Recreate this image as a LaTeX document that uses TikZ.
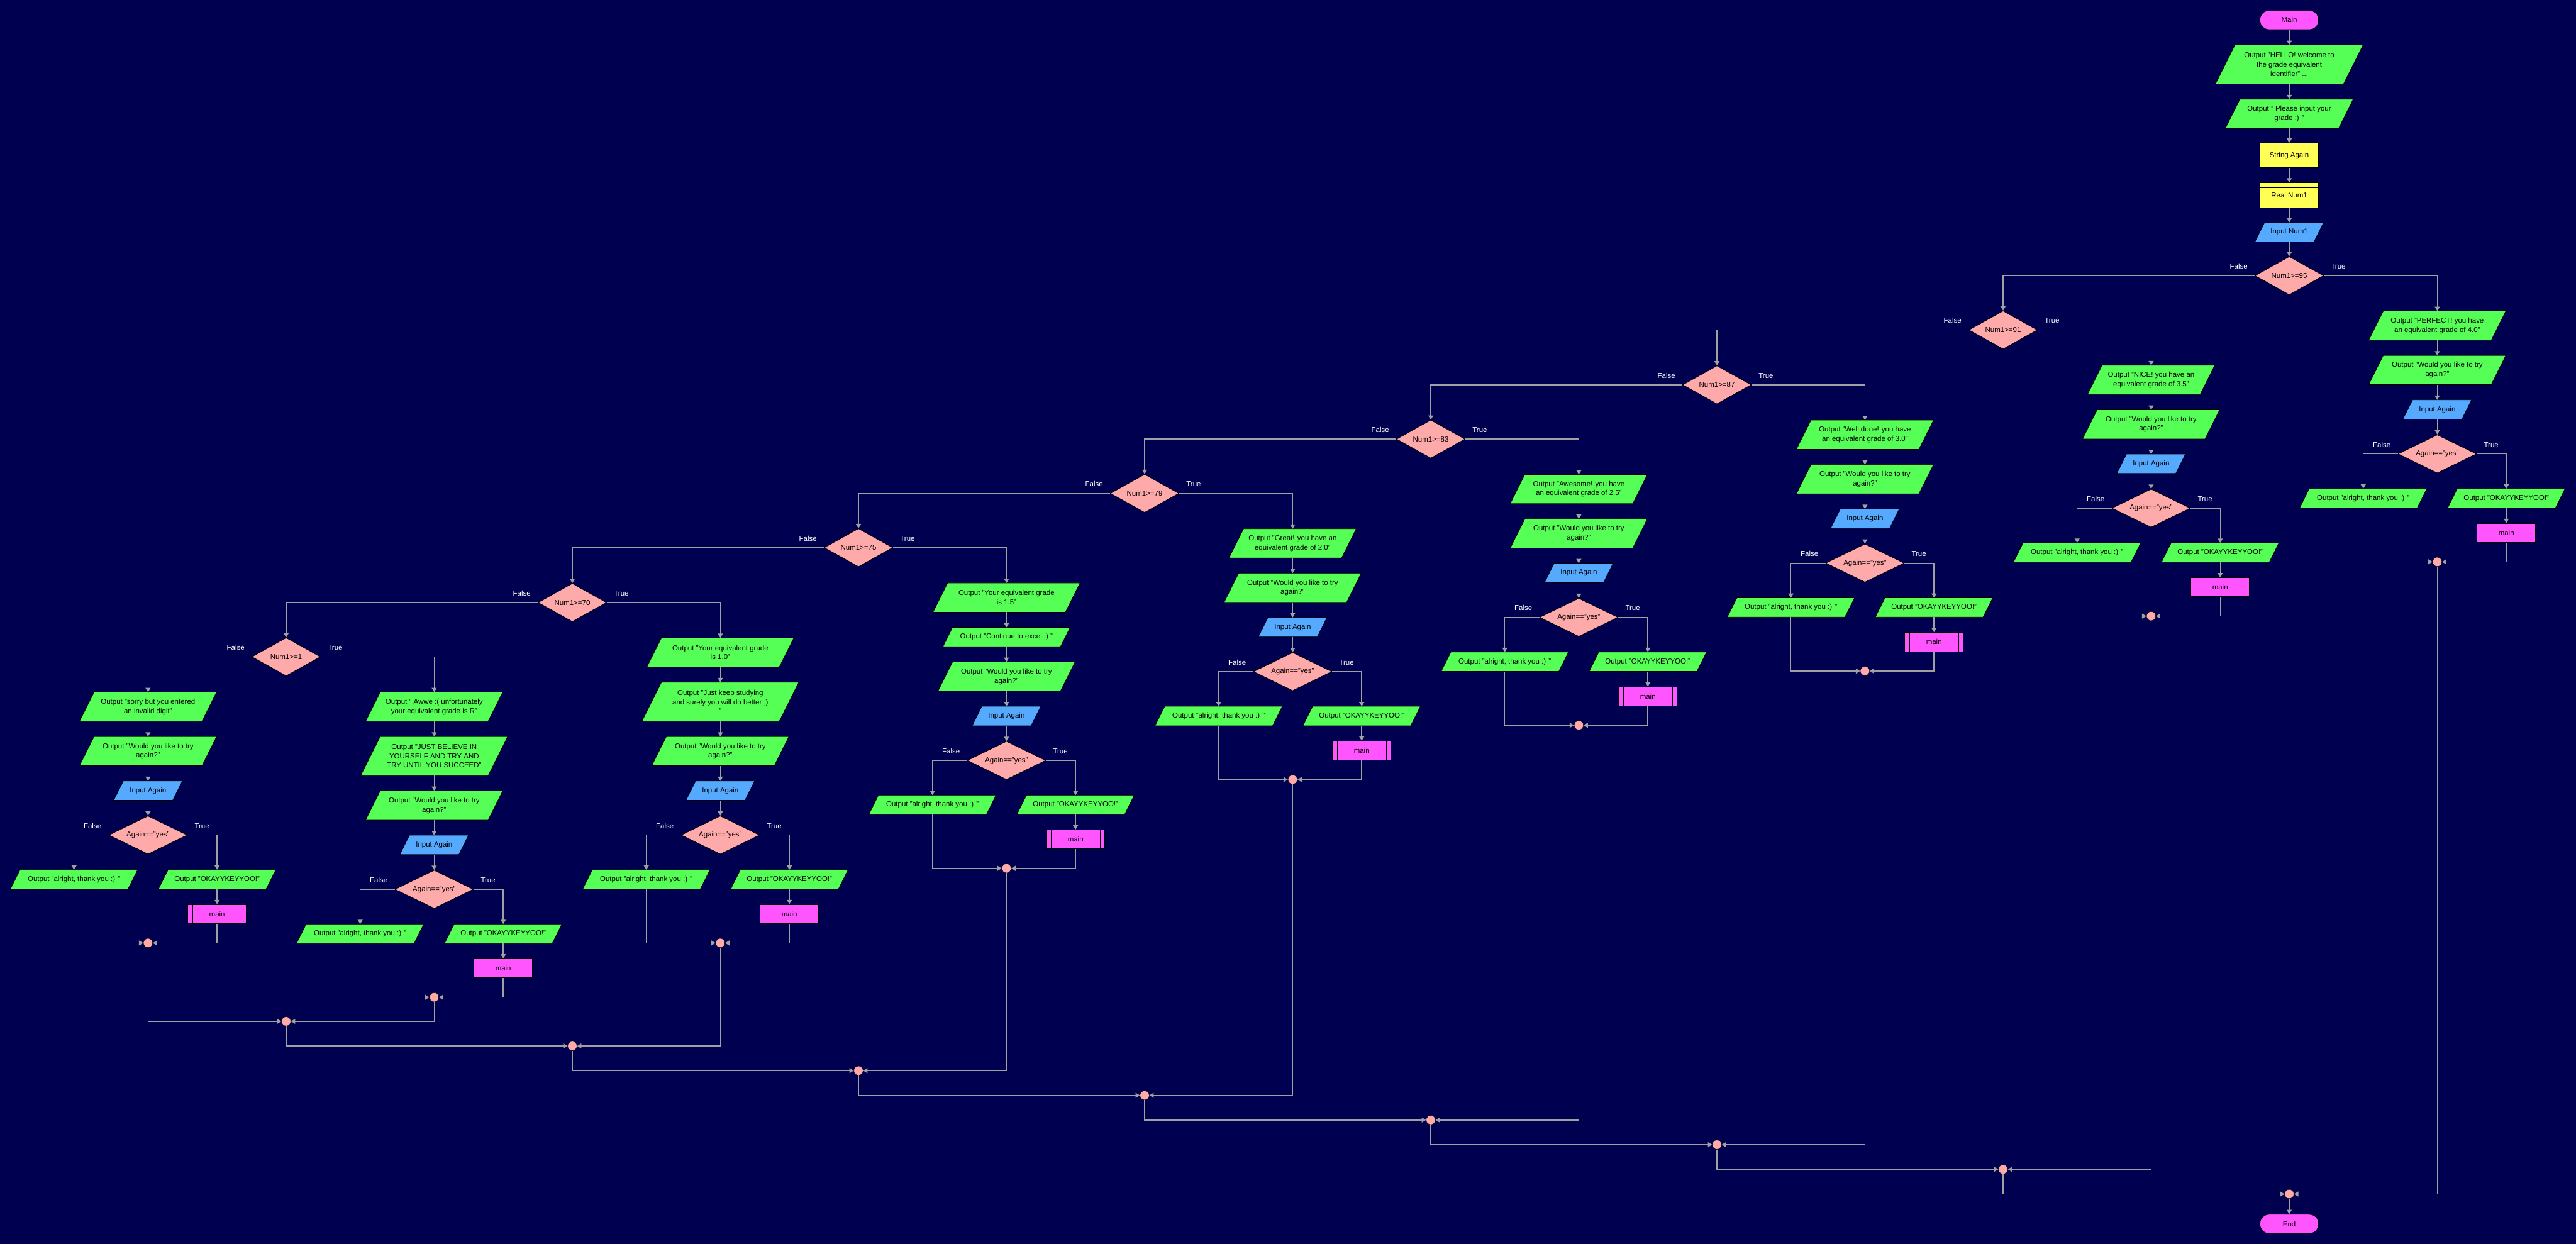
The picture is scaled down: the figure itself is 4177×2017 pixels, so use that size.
\documentclass[tikz,border=0pt]{standalone}
\usepackage{fontspec}
\setmainfont{Liberation Sans}
\usetikzlibrary{shapes.geometric,arrows.meta,calc}
\definecolor{cbg}{RGB}{0,0,80}
\definecolor{cgreen}{RGB}{85,255,85}
\definecolor{cblue}{RGB}{85,170,255}
\definecolor{cpink}{RGB}{255,170,170}
\definecolor{cyel}{RGB}{255,255,85}
\definecolor{cmag}{RGB}{255,85,255}
\definecolor{cline}{RGB}{160,160,160}
\pgfdeclarelayer{bgl}
\pgfdeclarelayer{shp}
\pgfsetlayers{bgl,shp,main}
\newcommand\flowfont{\fontsize{11.7}{15}\selectfont}
\tikzset{
  para/.style={shape=rectangle, inner sep=0pt, align=center, text=black,
    append after command={\pgfextra{\begin{pgfonlayer}{shp}
      \filldraw[fill=#1, draw=black, line width=0.8pt]
        (\tikzlastnode.south west)
        -- ($(\tikzlastnode.south east)!0.5!90:(\tikzlastnode.north east)$)
        -- (\tikzlastnode.north east)
        -- ($(\tikzlastnode.north west)!0.5!90:(\tikzlastnode.south west)$)
        -- cycle;
      \end{pgfonlayer}}}},
  outp/.style={para=cgreen},
  inp/.style={para=cblue, minimum width=111pt, minimum height=31pt},
  dec/.style={shape=diamond, shape aspect=2, inner sep=0pt, fill=cpink, draw=black, line width=0.8pt,
    minimum width=111pt, minimum height=62pt, text=black},
  term/.style={shape=rectangle, rounded corners=15pt, fill=cmag, draw=black, line width=0.8pt,
    minimum width=95pt, minimum height=31pt, inner sep=0pt, text=black},
  subr/.style={shape=rectangle, fill=cmag, draw=black, line width=0.8pt, minimum width=95pt,
    minimum height=31pt, inner sep=0pt, text=black,
    path picture={\draw[line width=0.8pt]
      ([xshift=8pt]path picture bounding box.south west) -- ([xshift=8pt]path picture bounding box.north west)
      ([xshift=-8pt]path picture bounding box.south east) -- ([xshift=-8pt]path picture bounding box.north east);}},
  decl/.style={shape=rectangle, fill=cyel, draw=black, line width=0.8pt, minimum width=95pt,
    minimum height=40pt, inner sep=0pt, text=black,
    path picture={\draw[line width=0.8pt]
      ([yshift=-8pt]path picture bounding box.north west) -- ([yshift=-8pt]path picture bounding box.north east)
      ([xshift=8pt]path picture bounding box.north west) -- ([xshift=8pt]path picture bounding box.south west);}},
  mrg/.style={shape=circle, fill=cpink, draw=black, line width=0.5pt, minimum size=15pt, inner sep=0pt},
  arr/.style={draw=cline, line width=1.5pt, -{Triangle[length=7pt,width=8pt]}},
  tl/.style={anchor=south west, xshift=11pt, yshift=10pt, inner sep=0pt, text=white},
  fl/.style={anchor=south east, xshift=-11pt, yshift=10pt, inner sep=0pt, text=white},
}
\newcommand\branchtail[3]{%
  \node[outp, minimum width=222pt, minimum height=47pt] (#1w) at (#2,#3) {Output "Would you like to try\\again?"};
  \node[inp] (#1i) at (#2,#3+64) {Input Again};
  \node[dec, minimum width=127pt] (#1d) at (#2,#3+136) {Again=="yes"};
  \node[outp, minimum width=206pt, minimum height=31pt] (#1f) at (#2-120,#3+208) {Output "alright, thank you :) "};
  \node[outp, minimum width=190pt, minimum height=31pt] (#1t) at (#2+112,#3+208) {Output "OKAYYKEYYOO!"};
  \node[subr] (#1m) at (#2+112,#3+264) {main};
  \node[mrg] (#1j) at (#2,#3+311) {};
  \draw[arr] (#1w) -- (#1i);
  \draw[arr] (#1i) -- (#1d);
  \draw[arr] (#1d.west) node[fl] (#1fl) {False} -| (#1f);
  \draw[arr] (#1d.east) node[tl] (#1tl) {True} -| (#1t);
  \draw[arr] (#1t) -- (#1m);
  \draw[arr] (#1f) |- (#1j);
  \draw[arr] (#1m) |- (#1j);
}
\begin{document}
\begin{tikzpicture}[x=1pt,y=-1pt,font=\flowfont]
\useasboundingbox (0,0) rectangle (4177,2017);
\begin{pgfonlayer}{bgl}\fill[cbg] (0,0) rectangle (4177,2017);\end{pgfonlayer}

% main column
\node[term] (start) at (3712,32.5) {Main};
\node[outp, minimum width=239pt, minimum height=63pt] (hello) at (3712,104.5) {Output "HELLO! welcome to\\the grade equivalent\\identifier" ...};
\node[outp, minimum width=207pt, minimum height=47pt] (please) at (3712,184.5) {Output " Please input your\\grade :) "};
\node[decl] (strv) at (3712,252) {String Again};
\node[decl] (realv) at (3712,316.5) {Real Num1};
\node[inp] (innum) at (3712,376.5) {Input Num1};
\draw[arr] (start) -- (hello);
\draw[arr] (hello) -- (please);
\draw[arr] (please) -- (strv);
\draw[arr] (strv) -- (realv);
\draw[arr] (realv) -- (innum);

% decisions
\node[dec] (d0) at (3712,447) {Num1>=95};
\node[dec] (d1) at (3248,535) {Num1>=91};
\node[dec] (d2) at (2784,624) {Num1>=87};
\node[dec] (d3) at (2320,712) {Num1>=83};
\node[dec] (d4) at (1856,800) {Num1>=79};
\node[dec] (d5) at (1392,888) {Num1>=75};
\node[dec] (d6) at (928,977) {Num1>=70};
\node[dec] (d7) at (464,1065) {Num1>=1};
\draw[arr] (innum) -- (d0);

% first boxes of each branch
\node[outp, minimum width=222pt, minimum height=47pt] (b0) at (3952,528) {Output "PERFECT! you have\\an equivalent grade of 4.0"};
\node[outp, minimum width=206pt, minimum height=47pt] (b1) at (3488,616) {Output "NICE! you have an\\equivalent grade of 3.5"};
\node[outp, minimum width=222pt, minimum height=47pt] (b2) at (3024,705) {Output "Well done! you have\\an equivalent grade of 3.0"};
\node[outp, minimum width=222pt, minimum height=47pt] (b3) at (2560,793) {Output "Awesome! you have\\an equivalent grade of 2.5"};
\node[outp, minimum width=206pt, minimum height=47pt] (b4) at (2096,881) {Output "Great! you have an\\equivalent grade of 2.0"};
\node[outp, minimum width=238pt, minimum height=47pt] (b5) at (1632,969) {Output "Your equivalent grade\\is 1.5"};
\node[outp, minimum width=206pt, minimum height=31pt] (b5c) at (1632,1033) {Output "Continue to excel ;) "};
\node[outp, minimum width=238pt, minimum height=47pt] (b6) at (1168,1058) {Output "Your equivalent grade\\is 1.0"};
\node[outp, minimum width=254pt, minimum height=63pt] (b6c) at (1168,1138) {Output "Just keep studying\\and surely you will do better ;)\\"};
\node[outp, minimum width=222pt, minimum height=47pt] (b7) at (704,1146) {Output " Awwe :( unfortunately\\your equivalent grade is R"};
\node[outp, minimum width=238pt, minimum height=63pt] (b7c) at (704,1226) {Output "JUST BELIEVE IN\\YOURSELF AND TRY AND\\TRY UNTIL YOU SUCCEED"};
\node[outp, minimum width=222pt, minimum height=47pt] (s7) at (240,1146) {Output "sorry but you entered\\an invalid digit"};

% decision connectors
\draw[arr] (d0.east) node[tl] (tt0) {True} -| (b0);
\draw[arr] (d0.west) node[fl] (ff0) {False} -| (d1);
\draw[arr] (d1.east) node[tl] (tt1) {True} -| (b1);
\draw[arr] (d1.west) node[fl] (ff1) {False} -| (d2);
\draw[arr] (d2.east) node[tl] (tt2) {True} -| (b2);
\draw[arr] (d2.west) node[fl] (ff2) {False} -| (d3);
\draw[arr] (d3.east) node[tl] (tt3) {True} -| (b3);
\draw[arr] (d3.west) node[fl] (ff3) {False} -| (d4);
\draw[arr] (d4.east) node[tl] (tt4) {True} -| (b4);
\draw[arr] (d4.west) node[fl] (ff4) {False} -| (d5);
\draw[arr] (d5.east) node[tl] (tt5) {True} -| (b5);
\draw[arr] (d5.west) node[fl] (ff5) {False} -| (d6);
\draw[arr] (d6.east) node[tl] (tt6) {True} -| (b6);
\draw[arr] (d6.west) node[fl] (ff6) {False} -| (d7);
\draw[arr] (d7.east) node[tl] (tt7) {True} -| (b7);
\draw[arr] (d7.west) node[fl] (ff7) {False} -| (s7);

% branch tails
\branchtail{p0}{3952}{600}
\branchtail{p1}{3488}{688}
\branchtail{p2}{3024}{777}
\branchtail{p3}{2560}{865}
\branchtail{p4}{2096}{953}
\branchtail{p5}{1632}{1097}
\branchtail{p6}{1168}{1218}
\branchtail{p7}{704}{1306}
\branchtail{q7}{240}{1218}

\draw[arr] (b0) -- (p0w);
\draw[arr] (b1) -- (p1w);
\draw[arr] (b2) -- (p2w);
\draw[arr] (b3) -- (p3w);
\draw[arr] (b4) -- (p4w);
\draw[arr] (b5) -- (b5c);
\draw[arr] (b5c) -- (p5w);
\draw[arr] (b6) -- (b6c);
\draw[arr] (b6c) -- (p6w);
\draw[arr] (b7) -- (b7c);
\draw[arr] (b7c) -- (p7w);
\draw[arr] (s7) -- (q7w);

% decision merges
\node[mrg] (j0) at (3712,1936) {};
\node[mrg] (j1) at (3248,1896) {};
\node[mrg] (j2) at (2784,1856) {};
\node[mrg] (j3) at (2320,1816) {};
\node[mrg] (j4) at (1856,1776) {};
\node[mrg] (j5) at (1392,1736) {};
\node[mrg] (j6) at (928,1696) {};
\node[mrg] (j7) at (464,1656) {};
\node[term] (stop) at (3712,1984.5) {End};

\draw[arr] (q7j) |- (j7);
\draw[arr] (p7j) |- (j7);
\draw[arr] (j7) |- (j6);
\draw[arr] (p6j) |- (j6);
\draw[arr] (j6) |- (j5);
\draw[arr] (p5j) |- (j5);
\draw[arr] (j5) |- (j4);
\draw[arr] (p4j) |- (j4);
\draw[arr] (j4) |- (j3);
\draw[arr] (p3j) |- (j3);
\draw[arr] (j3) |- (j2);
\draw[arr] (p2j) |- (j2);
\draw[arr] (j2) |- (j1);
\draw[arr] (p1j) |- (j1);
\draw[arr] (j1) |- (j0);
\draw[arr] (p0j) |- (j0);
\draw[arr] (j0) -- (stop);
\end{tikzpicture}
\end{document}
